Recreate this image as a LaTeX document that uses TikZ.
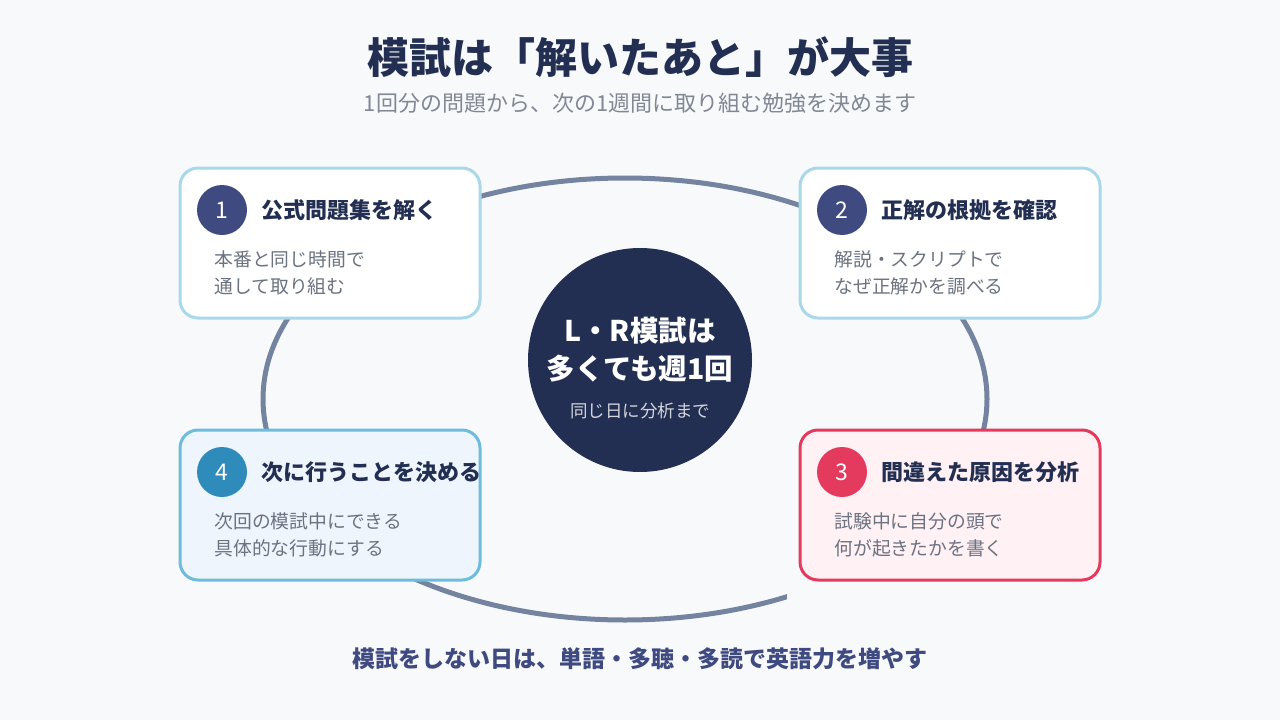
\documentclass[tikz,border=0pt]{standalone}
\usepackage{fontspec}
\setmainfont{Noto Sans CJK JP}
\definecolor{bgc}{HTML}{F8F9FB}
\definecolor{navy}{HTML}{232F52}
\definecolor{badge}{HTML}{3F4A80}
\definecolor{cyanl}{HTML}{A8D8EA}
\definecolor{cyand}{HTML}{6DBCDC}
\definecolor{cyanf}{HTML}{EEF5FC}
\definecolor{teal}{HTML}{2E8BBA}
\definecolor{rosec}{HTML}{E33A5E}
\definecolor{rosef}{HTML}{FFF1F4}
\definecolor{loopc}{HTML}{7383A0}
\definecolor{greyt}{HTML}{6B7280}
\begin{document}
\begin{tikzpicture}[x=1pt,y=-1pt,
			card/.style  = {draw=cyanl, fill=white, line width=3pt, rounded corners=18pt, minimum width=300pt, minimum height=150pt, inner sep=0pt},
			num/.style   = {circle, fill=badge, text=white, minimum size=50pt, inner sep=0pt, font=\fontsize{23}{24}\selectfont},
			head/.style  = {anchor=west, text=navy, font=\fontsize{22}{24}\selectfont\bfseries},
			body/.style  = {anchor=north west, align=left, text=greyt, font=\fontsize{18.8}{27}\selectfont}]
			
			% page
			\fill[bgc] (0,0) rectangle (1280,720);
			\node[text=navy, font=\fontsize{42}{44}\selectfont\bfseries] (title) at (640,57) {模試は「解いたあと」が大事};
			\node[text=greyt!85, font=\fontsize{22}{24}\selectfont] (sub) at (640,103) {1回分の問題から、次の1週間に取り組む勉強を決めます};
			
			% the loop behind the cards
			\draw[loopc, line width=5pt] (625,399) ellipse (362pt and 221pt);
			\fill[bgc] (787,568) rectangle (850,605);
			
			% four cards
			\node[card] (c1) at (330,243) {};
			\node[card] (c2) at (950,243) {};
			\node[card, draw=rosec, fill=rosef] (c3) at (950,505) {};
			\node[card, draw=cyand, fill=cyanf] (c4) at (330,505) {};
			
			\node[num] (n1) at (222,210) {1};
			\node[num] (n2) at (842,210) {2};
			\node[num, fill=rosec] (n3) at (842,472) {3};
			\node[num, fill=teal] (n4) at (222,472) {4};
			
			\node[head] (h1) at (258,210) {公式問題集を解く};
			\node[head] (h2) at (878,210) {正解の根拠を確認};
			\node[head] (h3) at (878,472) {間違えた原因を分析};
			\node[head] (h4) at (258,472) {次に行うことを決める};
			
			\node[body] (b1) at (211,247) {本番と同じ時間で\\通して取り組む};
			\node[body] (b2) at (831,247) {解説・スクリプトで\\なぜ正解かを調べる};
			\node[body] (b3) at (831,509) {試験中に自分の頭で\\何が起きたかを書く};
			\node[body] (b4) at (211,509) {次回の模試中にできる\\具体的な行動にする};
			
			% centre
			\node[circle, fill=navy, minimum size=224pt, inner sep=0pt] (hub) at (640,360) {};
			\node[text=white, align=center, font=\fontsize{28.5}{38}\selectfont\bfseries] (hubt) at (640,350) {L・R模試は\\多くても週1回};
			\node[text=white!80!navy, font=\fontsize{17.5}{20}\selectfont] (hubs) at (640,411) {同じ日に分析まで};
			
			\node[text=badge, font=\fontsize{23}{24}\selectfont\bfseries] (foot) at (640,659) {模試をしない日は、単語・多聴・多読で英語力を増やす};
		\end{tikzpicture}
\end{document}
